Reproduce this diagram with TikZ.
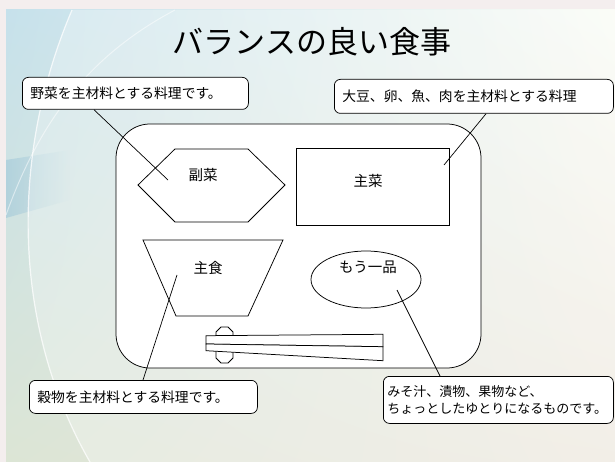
\documentclass[tikz,border=0pt]{standalone}
\usepackage{fontspec}
\setmainfont{Noto Sans CJK JP}
\usetikzlibrary{shadings,fadings}
\definecolor{outerbg}{HTML}{F4EEEE}
\definecolor{bgUL}{HTML}{C6E1EB}
\definecolor{bgUR}{HTML}{FAFCF5}
\definecolor{bgLL}{HTML}{DCE5D5}
\definecolor{bgLR}{HTML}{EEE8DF}
\definecolor{bandblue}{HTML}{9CC5D8}
\tikzfading[name=faderight, left color=transparent!0, right color=transparent!100]
\begin{document}
\begin{tikzpicture}[x=1pt,y=-1pt,line width=0.75pt]
\tikzset{
  callout/.style={draw, fill=white, rounded corners=6pt, align=left,
    inner xsep=8pt, inner ysep=0pt, anchor=north west,
    font=\fontsize{13.8}{17}\selectfont},
  label/.style={font=\fontsize{14.5}{17}\selectfont, inner sep=1pt},
  dish/.style={draw, fill=white},
  leader/.style={draw, line width=0.7pt}
}
\useasboundingbox (0,0) rectangle (615,462);
% background
\fill[outerbg] (0,0) rectangle (615,462);
\shade[upper left=bgUL, upper right=bgUR, lower left=bgLL, lower right=bgLR]
  (6,10) rectangle (615,462);
\fill[bandblue, opacity=0.55, path fading=faderight]
  (6,160) -- (70,150) -- (70,200) -- (6,218) -- cycle;
\fill[white, opacity=0.28] (72,10) .. controls (8,160) and (14,330) .. (90,462)
  -- (615,462) -- (615,10) -- cycle;
\draw[white, opacity=0.75, line width=1.2pt]
  (72,10) .. controls (8,160) and (14,330) .. (90,462);
\draw[white, opacity=0.5, line width=1pt]
  (175,10) .. controls (90,55) and (40,120) .. (6,215);
% title
\node[font=\fontsize{31}{36}\selectfont] (title) at (312,42) {バランスの良い食事};
% tray
\draw[fill=white, rounded corners=34pt] (116,124) rectangle (481,368);
% side dish (hexagon)
\draw[dish] (138,185) -- (175,149) -- (248,149) -- (285,185) -- (248,222) -- (175,222) -- cycle;
\node[label] (fukusai) at (203,175) {副菜};
% main dish (rectangle)
\draw[dish] (296,148) rectangle (449,225);
\node[label] (shusai) at (368,181) {主菜};
% staple (trapezoid)
\draw[dish] (143,240) -- (283,240) -- (248,316) -- (176,316) -- cycle;
\node[label] (shushoku) at (208,268) {主食};
% one more (ellipse)
\draw[dish] (366,279.5) ellipse [x radius=55pt, y radius=28.5pt];
\node[label] (mouippin) at (368,267) {もう一品};
% chopstick rest and chopsticks
\draw[dish] (221,327) -- (228,327) -- (233,332) -- (233,358) -- (228,363)
  -- (221,363) -- (216,358) -- (216,332) -- cycle;
\draw[dish] (206,335.7) -- (383,334.3) -- (383,346.7) -- (206,344) -- cycle;
\draw[dish] (206,344) -- (383,346.7) -- (383,360.7) -- (206,350.7) -- cycle;
% callouts
\node[callout, text width=210pt, minimum height=32pt] (tl) at (22,77)
  {野菜を主材料とする料理です。};
\node[callout, text width=263pt, minimum height=34pt] (tr) at (334,79)
  {大豆、卵、魚、肉を主材料とする料理};
\node[callout, text width=212pt, minimum height=33pt] (bl) at (29,380)
  {穀物を主材料とする料理です。};
\node[callout, text width=222pt, inner xsep=4pt, minimum height=47pt,
  font=\fontsize{13}{17}\selectfont] (br) at (383,376)
  {みそ汁、漬物、果物など、\\ちょっとしたゆとりになるものです。};
% leader lines
\coordinate (tlend) at (168,180);
\coordinate (trend) at (444,165);
\coordinate (blend) at (177,275);
\coordinate (brend) at (397,290);
\draw[leader] (tl.south west) ++(72,0) -- (tlend);
\draw[leader] (tr.south west) ++(152,0) -- (trend);
\draw[leader] (bl.north west) ++(114,0) -- (blend);
\draw[leader] (br.north west) ++(57,0) -- (brend);
\end{tikzpicture}
\end{document}
